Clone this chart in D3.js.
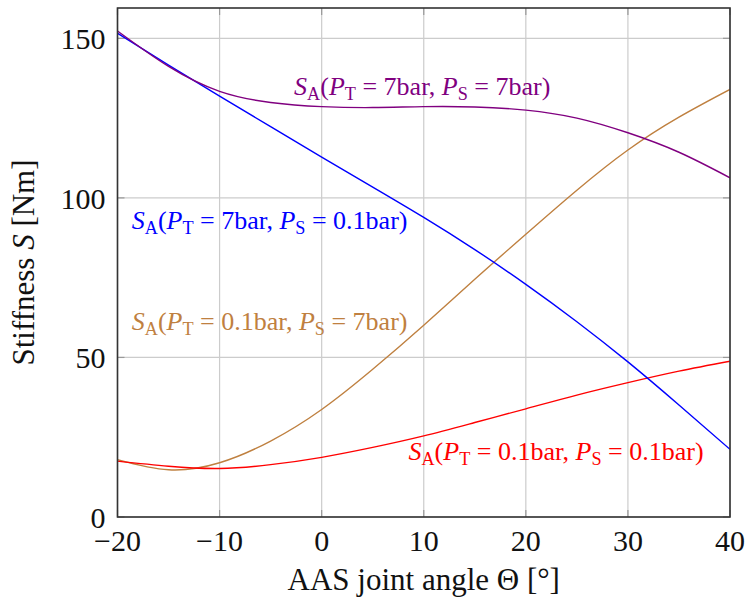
<!DOCTYPE html>
<html>
<head>
<meta charset="utf-8">
<script src="https://cdn.jsdelivr.net/npm/d3@7/dist/d3.min.js"></script>
</head>
<body>
<svg id="chart" width="749" height="604" font-family="Liberation Serif"></svg>
<script>
// Joint angle samples (degrees)
const angles = [-20, -15, -10, -5, 0, 5, 10, 15, 20, 25, 30, 35, 40];

// Stiffness S_A [Nm] for each pressure combination
const stiff_T7_S7   = [152.3, 141.2, 133.4, 129.9, 128.6, 128.3, 128.6, 128.5, 127.5, 125.0, 120.4, 114.3, 106.3];
const stiff_T7_S01  = [151.6, 141.6, 131.9, 122.3, 112.8, 103.4, 93.9, 83.8, 72.9, 61.2, 48.6, 35.1, 21.2];
const stiff_T01_S7  = [18.0, 14.8, 17.0, 23.8, 33.7, 46.3, 60.1, 74.5, 88.6, 102.4, 115.0, 125.3, 134.0];
const stiff_T01_S01 = [17.5, 15.9, 15.2, 16.4, 18.7, 21.8, 25.4, 29.6, 33.9, 38.2, 42.1, 45.7, 48.8];

// Pressure settings [P_T, P_S] in bar
const pressures = [["7", "7"], ["7", "0.1"], ["0.1", "7"], ["0.1", "0.1"]];
const seriesColors = ["#800080", "#0000ff", "#bf8040", "#ff0000"];

// Axis ticks
const xTicks = [-20, -10, 0, 10, 20, 30, 40];
const yTicks = [0, 50, 100, 150];

const series = [stiff_T7_S7, stiff_T7_S01, stiff_T01_S7, stiff_T01_S01];

// Label anchor points (angle, stiffness) for each curve label
const labelAngles = [-2.7, -18.6, -18.6, 8.5];
const labelStiff  = [132.2, 90.3, 58.7, 17.8];

const families = ["Liberation Serif"];
const FONT = `"${families[0]}"`;

// remove the default page margin so the chart sits at the top-left corner
document.body.style.margin = "0";
document.body.style.padding = "0";

const svg = d3.select("#chart");
const margin = { left: 117.5, right: 19, top: 8, bottom: 87 };
const W = 749, H = 604;

// apply the serif face to a text selection
function serif(sel, size) {
  sel.attr("font-family", families[0]).style("font-family", FONT);
  if (size) sel.attr("font-size", size);
  return sel;
}

const x = d3.scaleLinear().domain([-20, 40]).range([margin.left, W - margin.right]);
const y = d3.scaleLinear().domain([0, 159.5]).range([H - margin.bottom, margin.top]);

// Grid lines
const grid = svg.append("g").attr("stroke", "#cccccc").attr("stroke-width", 1.2);
xTicks.forEach(t => grid.append("line")
  .attr("x1", x(t)).attr("x2", x(t)).attr("y1", y.range()[1]).attr("y2", y.range()[0]));
yTicks.forEach(t => grid.append("line")
  .attr("x1", x.range()[0]).attr("x2", x.range()[1]).attr("y1", y(t)).attr("y2", y(t)));

// Inward tick marks on all four sides
const tickLen = 7;
const ticks = svg.append("g").attr("stroke", "#999999").attr("stroke-width", 1.2);
xTicks.forEach(t => {
  ticks.append("line").attr("x1", x(t)).attr("x2", x(t)).attr("y1", y.range()[0]).attr("y2", y.range()[0] - tickLen);
  ticks.append("line").attr("x1", x(t)).attr("x2", x(t)).attr("y1", y.range()[1]).attr("y2", y.range()[1] + tickLen);
});
yTicks.forEach(t => {
  ticks.append("line").attr("x1", x.range()[0]).attr("x2", x.range()[0] + tickLen).attr("y1", y(t)).attr("y2", y(t));
  ticks.append("line").attr("x1", x.range()[1]).attr("x2", x.range()[1] - tickLen).attr("y1", y(t)).attr("y2", y(t));
});

// Curves
const line = d3.line()
  .x((d, i) => x(angles[i]))
  .y(d => y(d))
  .curve(d3.curveNatural);

svg.append("clipPath").attr("id", "clip").append("rect")
  .attr("x", x.range()[0]).attr("y", y.range()[1])
  .attr("width", x.range()[1] - x.range()[0]).attr("height", y.range()[0] - y.range()[1]);

// draw order: tan, red, blue, purple
[2, 3, 1, 0].forEach(k => {
  svg.append("path")
    .datum(series[k])
    .attr("d", line)
    .attr("fill", "none")
    .attr("stroke", seriesColors[k])
    .attr("stroke-width", 1.4)
    .attr("clip-path", "url(#clip)");
});

// Frame
svg.append("rect")
  .attr("x", x.range()[0]).attr("y", y.range()[1])
  .attr("width", x.range()[1] - x.range()[0]).attr("height", y.range()[0] - y.range()[1])
  .attr("fill", "none").attr("stroke", "#333333").attr("stroke-width", 1.6);

// Tick labels
xTicks.forEach(t => {
  serif(svg.append("text"), 30)
    .attr("x", x(t)).attr("y", y.range()[0] + 34)
    .attr("text-anchor", "middle").attr("fill", "#111")
    .text(t < 0 ? "\u2212" + Math.abs(t) : String(t));
});
yTicks.forEach(t => {
  serif(svg.append("text"), 30)
    .attr("x", x.range()[0] - 12).attr("y", y(t) + 11)
    .attr("text-anchor", "end").attr("fill", "#111")
    .text(String(t));
});

// Axis titles
serif(svg.append("text"), 31)
  .attr("x", (x.range()[0] + x.range()[1]) / 2).attr("y", 590)
  .attr("text-anchor", "middle").attr("fill", "#111")
  .text("AAS joint angle \u0398 [\u00B0]");

const yl = serif(svg.append("text"), 31)
  .attr("transform", `translate(34,${(y.range()[0] + y.range()[1]) / 2}) rotate(-90)`)
  .attr("text-anchor", "middle").attr("fill", "#111");
yl.append("tspan").text("Stiffness ");
yl.append("tspan").attr("font-style", "italic").text("S");
yl.append("tspan").text(" [Nm]");

// Curve labels: S_A(P_T = .. bar, P_S = .. bar)
const fs = 26, sub = 0.7, shift = 5;
pressures.forEach((p, k) => {
  const t = serif(svg.append("text"), fs)
    .attr("x", x(labelAngles[k])).attr("y", y(labelStiff[k]))
    .attr("fill", seriesColors[k]);
  t.append("tspan").attr("font-style", "italic").text("S");
  t.append("tspan").attr("font-size", fs * sub).attr("dy", shift).text("A");
  t.append("tspan").attr("dy", -shift).text("(");
  t.append("tspan").attr("font-style", "italic").text("P");
  t.append("tspan").attr("font-size", fs * sub).attr("dy", shift).text("T");
  t.append("tspan").attr("dy", -shift).text(" = " + p[0] + "bar, ");
  t.append("tspan").attr("font-style", "italic").text("P");
  t.append("tspan").attr("font-size", fs * sub).attr("dy", shift).text("S");
  t.append("tspan").attr("dy", -shift).text(" = " + p[1] + "bar)");
});
</script>
</body>
</html>
